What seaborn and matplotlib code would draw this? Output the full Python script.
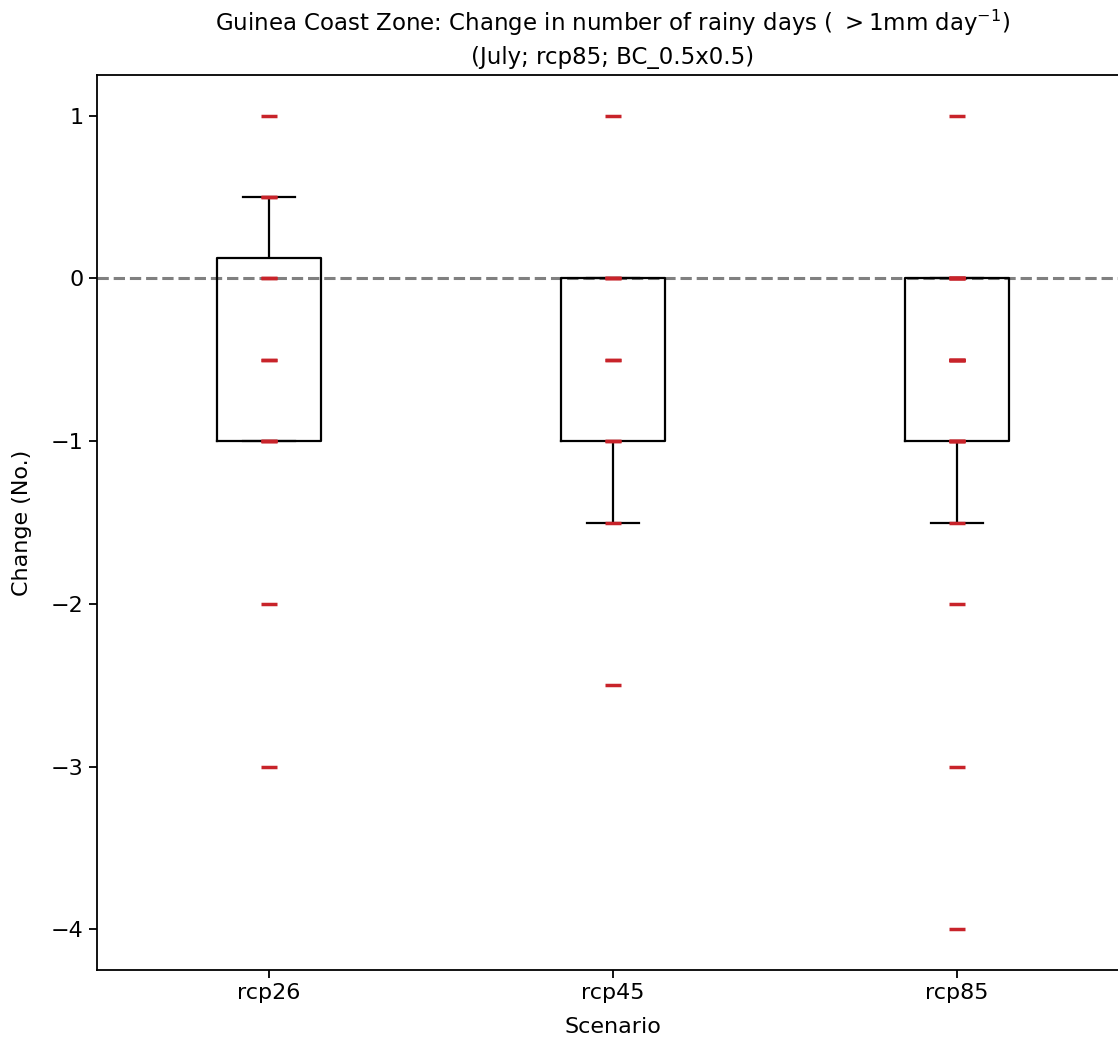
import matplotlib
matplotlib.use("Agg")
import matplotlib.pyplot as plt
import numpy as np
import pandas as pd
import seaborn as sns

# Change in number of rainy days per model, by scenario
scenarios = ["rcp26", "rcp45", "rcp85"]
rcp26 = [-3, -2, -1, -1, -1, -0.5, -0.5, 0, 0, 0.5, 0.5, 1]
rcp45 = [-2.5, -1.5, -1, -1, -0.5, -0.5, 0, 0, 0, 1]
rcp85 = [-4, -3, -2, -1.5, -1, -1, -1, -1, -0.5, -0.5, -0.5, -0.5, -0.5,
         0, 0, 0, 0, 0, 0, 1]

df = pd.DataFrame({
    "Scenario": ["rcp26"] * len(rcp26) + ["rcp45"] * len(rcp45) + ["rcp85"] * len(rcp85),
    "Change": rcp26 + rcp45 + rcp85,
})

plt.rcParams["font.family"] = ["DejaVu Sans"]

fig = plt.figure(figsize=(11.18, 10.43), dpi=100)
ax = fig.add_axes([0.0868, 0.07, 0.923, 0.858])

ax.axhline(0, color="grey", ls="--", lw=2.2, zorder=1)

sns.boxplot(data=df, x="Scenario", y="Change", order=scenarios, ax=ax,
            whis=0.5, width=0.3, fill=False, color="black", linewidth=1.6,
            showfliers=False, medianprops={"visible": False})

sns.stripplot(data=df, x="Scenario", y="Change", order=scenarios, ax=ax,
              jitter=False, marker="_", s=12, linewidth=2.5, color="#c8232a",
              zorder=3)

ax.set_xlim(-0.5, 2.5)
ax.set_ylim(-4.25, 1.25)
ax.set_yticks([1, 0, -1, -2, -3, -4])
ax.tick_params(labelsize=16, length=6, width=1.3)
for s in ax.spines.values():
    s.set_linewidth(1.3)
ax.set_xlabel("Scenario", fontsize=16, labelpad=10)
ax.set_ylabel("Change (No.)", fontsize=16, labelpad=14)
ax.set_title("Guinea Coast Zone: Change in number of rainy days ( $>$1mm day$^{-1}$)\n(July; rcp85; BC_0.5x0.5)",
             fontsize=16.5, pad=8, linespacing=1.45)

fig.savefig("out.png", dpi=100)
